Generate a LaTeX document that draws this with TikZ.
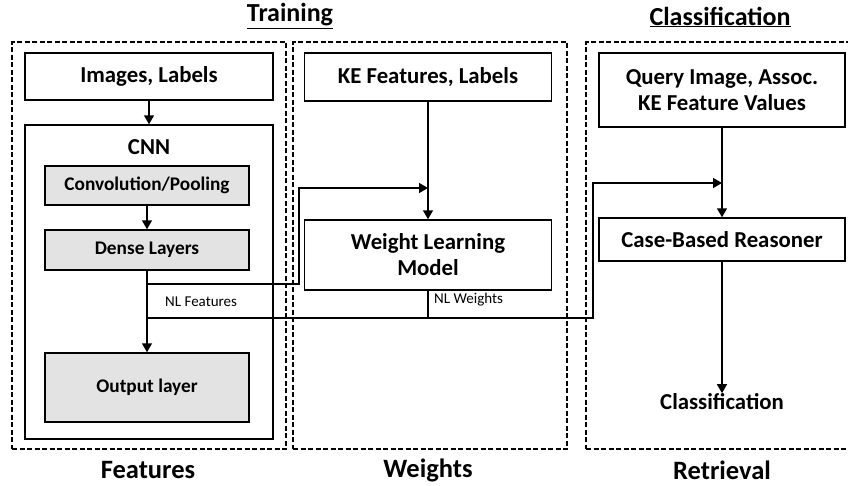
\documentclass[tikz,border=0pt]{standalone}
\usepackage{fontspec}
\setmainfont{Carlito}
\usetikzlibrary{arrows.meta}
\begin{document}
\begin{tikzpicture}[x=1pt,y=-1pt,
  box/.style={draw,line width=1.5pt,inner sep=0pt,align=center,font=\bfseries\fontsize{22.8}{26}\selectfont},
  graybox/.style={box,fill=black!11,font=\bfseries\fontsize{19.3}{22}\selectfont},
  group/.style={draw,line width=1.3pt,dash pattern=on 5pt off 2.5pt,inner sep=0pt},
  conn/.style={line width=1.5pt},
  arr/.style={conn,-{Triangle[width=10pt,length=9pt]}},
  small/.style={inner sep=0pt,font=\fontsize{15}{17}\selectfont},
  title/.style={inner sep=0pt,font=\bfseries\fontsize{26}{30}\selectfont},
  foot/.style={inner sep=0pt,font=\bfseries\fontsize{26.5}{30}\selectfont}]
\useasboundingbox (0,0) rectangle (848,485);
\clip (0,0) rectangle (848,485);
% group boxes
\node[group,minimum width=274pt,minimum height=407pt] (g1) at (149,245.5) {};
\node[group,minimum width=274pt,minimum height=407pt] (g2) at (430,245.5) {};
\node[group,minimum width=274pt,minimum height=407pt] (g3) at (723,245.5) {};
% titles
\node[title] (t1) at (290,16) {\underline{Training}};
\node[title] (t2) at (720,17) {\underline{Classification}};
\node[foot] (f1) at (148,470) {Features};
\node[foot] (f2) at (428,470) {Weights};
\node[foot] (f3) at (722,470) {Retrieval};
% features column
\node[box,minimum width=248pt,minimum height=47pt] (imgs) at (149,76.5) {Images, Labels};
\node[box,minimum width=248pt,minimum height=314pt] (cnn) at (149,282) {};
\node[box,draw=none] (cnnl) at (149,147) {CNN};
\node[graybox,minimum width=204pt,minimum height=39pt] (conv) at (147,185.5) {Convolution/Pooling};
\node[graybox,minimum width=204pt,minimum height=40pt] (dense) at (147,250) {Dense Layers};
\node[graybox,minimum width=204pt,minimum height=69pt] (out) at (147,387.5) {Output layer};
% weights column
\node[box,minimum width=247pt,minimum height=48pt] (ke) at (428,77) {KE Features, Labels};
\node[box,minimum width=247pt,minimum height=70pt] (wlm) at (428,255) {Weight Learning\\Model};
% retrieval column
\node[box,minimum width=246pt,minimum height=74pt] (query) at (722,90) {Query Image, Assoc.\\KE Feature Values};
\node[box,minimum width=246pt,minimum height=43pt] (cbr) at (722,239.5) {Case-Based Reasoner};
\node[box,draw=none] (cls) at (722,402) {Classification};
% arrows
\draw[arr] (imgs.south) -- (cnn.north);
\draw[arr] (conv.south) -- (dense.north);
\draw[arr] (dense.south) -- (out.north);
\draw[arr] (ke.south) -- (wlm.north);
\draw[arr] (query.south) -- (cbr.north);
\draw[arr] (cbr.south) -- (cls.north);
% NL connectors
\coordinate (b1) at (147,284);
\coordinate (b2) at (147,318);
\coordinate (j1) at (428,188);
\coordinate (j2) at (722,183);
\coordinate (w1) at (428,318);
\draw[arr] (b1) -- (299,284) |- (j1);
\draw[arr] (b2) -- (593,318) |- (j2);
\draw[conn] (wlm.south) -- (w1);
\node[small,anchor=west] (nlf) at (165,302) {NL Features};
\node[small,anchor=west] (nlw) at (434,300) {NL Weights};
\end{tikzpicture}
\end{document}
